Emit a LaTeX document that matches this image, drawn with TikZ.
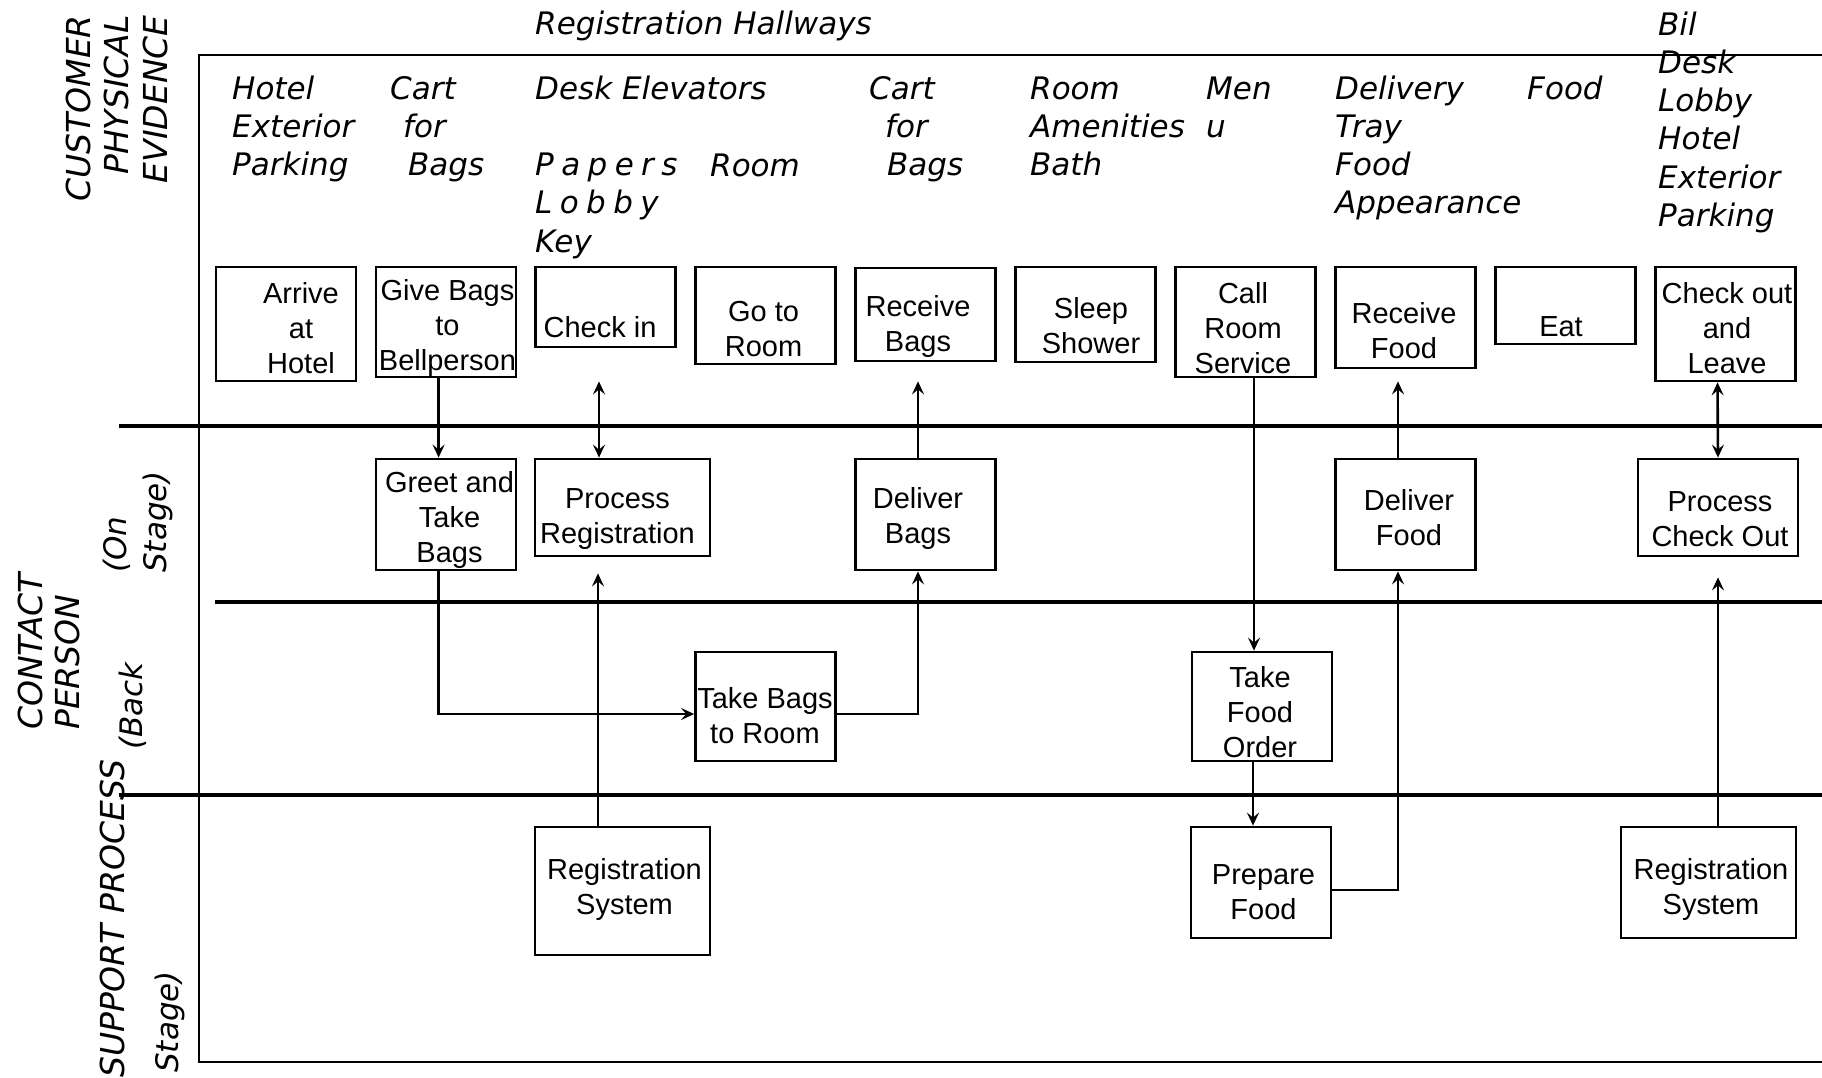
\documentclass[tikz,border=0pt]{standalone}
\usepackage{fontspec}
\setmainfont{Liberation Sans}
\newfontfamily\handfont{DejaVu Sans}
\usetikzlibrary{arrows.meta}

\tikzset{
  act/.style={draw, line width=2.8pt, minimum width=140pt, inner sep=0pt},
  acttxt/.style={font=\fontsize{29}{35}\selectfont, align=center, inner sep=0pt},
  ev/.style={font=\handfont\itshape\fontsize{31}{38.3}\selectfont, align=left, anchor=north west, inner sep=0pt},
  lanelbl/.style={font=\handfont\itshape\fontsize{33}{38.5}\selectfont, rotate=90, inner sep=0pt},
  flowtip/.tip={Stealth[length=13pt,width=12pt,inset=5pt]},
  flow/.style={line width=2.6pt, -flowtip},
  both/.style={line width=2.6pt, flowtip-flowtip},
  rule/.style={line width=3.2pt}
}

\begin{document}
\begin{tikzpicture}[x=1pt, y=-1pt]
\useasboundingbox (0,0) rectangle (1822,1077);

% frame and lane rules
\draw[line width=2.8pt] (1822,55) -- (199,55) -- (199,1062) -- (1822,1062);
\draw[rule] (119,426) -- (1822,426);
\draw[rule] (215,602) -- (1822,602);
\draw[rule] (119,795) -- (1822,795);

% lane labels
\node[lanelbl, align=right, anchor=north east] (lane-cust) at (63,15) {\strut CUSTOMER\\PHYSICAL\\EVIDENCE};
\node[lanelbl, align=left, anchor=north west, font=\handfont\itshape\fontsize{33}{37}\selectfont] (lane-contact) at (16,730) {\strut CONTACT\\PERSON};
\node[lanelbl, align=left, anchor=north west, font=\handfont\itshape\fontsize{31}{40}\selectfont] (lane-on) at (98,573) {\strut(On\\Stage)};
\node[lanelbl, anchor=base west] (lane-support) at (124,1078) {SUPPORT PROCESS};
\node[lanelbl, anchor=base west, font=\handfont\itshape\fontsize{31}{38}\selectfont] (lane-back) at ([xshift=18pt,yshift=10pt]lane-support.base east) {(Back};
\node[lanelbl, anchor=base west, font=\handfont\itshape\fontsize{31}{38}\selectfont] (lane-stage) at (178,1073) {Stage)};

% physical evidence
\node[ev] (ev-hall) at (535,7) {\strut Registration Hallways};
\node[ev] (ev-arrive) at (232,72) {\strut Hotel\\Exterior\\Parking};
\node[ev] (ev-cart1) at (390,72) {\strut Cart\\\hspace*{13pt}for\\\hspace*{18pt}Bags};
\node[ev] (ev-desk) at (535,72) {\strut Desk Elevators\\\strut\\{\spaceskip=7.4pt P a p e r s}\\{\spaceskip=7.4pt L o b b y}\\Key};
\node[ev] (ev-room) at (710,149) {\strut Room};
\node[ev] (ev-cart2) at (869,72) {\strut Cart\\\hspace*{16pt}for\\\hspace*{18pt}Bags};
\node[ev] (ev-bath) at (1030,72) {\strut Room\\Amenities\\Bath};
\node[ev] (ev-menu) at (1206,72) {\strut Men\\u};
\node[ev] (ev-tray) at (1335,72) {\strut Delivery\\Tray\\Food\\Appearance};
\node[ev] (ev-food) at (1527,72) {\strut Food};
\node[ev] (ev-leave) at (1658,8) {\strut Bil\\Desk\\Lobby\\Hotel\\Exterior\\Parking};

% customer actions
\node[act, minimum height=114pt] (arrive) at (286,324) {};
\node[acttxt] (arrive-t) at ([xshift=15pt,yshift=-4pt]arrive.center) {Arrive\\at\\Hotel};
\node[act, minimum height=110pt] (givebags) at (446,322) {};
\node[acttxt] (givebags-t) at ([xshift=1.5pt,yshift=-6pt]givebags.center) {Give Bags\\to\\Bellperson};
\node[act, minimum height=80pt] (checkin) at (605.5,307) {};
\node[acttxt] (checkin-t) at ([xshift=-5.5pt,yshift=-20pt]checkin.center) {Check in};
\node[act, minimum height=97pt] (gotoroom) at (765.5,315.5) {};
\node[acttxt] (gotoroom-t) at ([xshift=-2pt,yshift=-14pt]gotoroom.center) {Go to\\Room};
\node[act, minimum height=93pt] (recbags) at (925.5,314.5) {};
\node[acttxt] (recbags-t) at ([xshift=-7.5pt,yshift=-11.5pt]recbags.center) {Receive\\Bags};
\node[act, minimum height=95pt] (sleep) at (1085.5,314.5) {};
\node[acttxt] (sleep-t) at ([xshift=5.5pt,yshift=-11.5pt]sleep.center) {Sleep\\Shower};
\node[act, minimum height=110pt] (callrs) at (1245.5,322) {};
\node[acttxt] (callrs-t) at ([xshift=-2.5pt,yshift=-6pt]callrs.center) {Call\\Room\\Service};
\node[act, minimum height=101pt] (recfood) at (1405.5,317.5) {};
\node[acttxt] (recfood-t) at ([xshift=-1.5pt,yshift=-13.5pt]recfood.center) {Receive\\Food};
\node[act, minimum height=77pt] (eat) at (1565.5,305.5) {};
\node[acttxt] (eat-t) at ([xshift=-4.5pt,yshift=-21.5pt]eat.center) {Eat};
\node[act, minimum height=114pt] (checkout) at (1725.5,324) {};
\node[acttxt] (checkout-t) at ([xshift=1.5pt,yshift=-4pt]checkout.center) {Check out\\and\\Leave};

% onstage contact person
\node[act, minimum height=111pt] (greet) at (446,514.5) {};
\node[acttxt] (greet-t) at ([xshift=3.5pt,yshift=-5.5pt]greet.center) {Greet and\\Take\\Bags};
\node[act, minimum width=175pt, minimum height=97pt] (procreg) at (622.5,507.5) {};
\node[acttxt] (procreg-t) at ([xshift=-5pt,yshift=-12pt]procreg.center) {Process\\Registration};
\node[act, minimum height=111pt] (delbags) at (925.5,514.5) {};
\node[acttxt] (delbags-t) at ([xshift=-7.5pt,yshift=-3.5pt]delbags.center) {Deliver\\Bags};
\node[act, minimum height=111pt] (delfood) at (1405.5,514.5) {};
\node[acttxt] (delfood-t) at ([xshift=3.5pt,yshift=-3pt]delfood.center) {Deliver\\Food};
\node[act, minimum width=160pt, minimum height=97pt] (proccheck) at (1718,507.5) {};
\node[acttxt] (proccheck-t) at ([xshift=2pt,yshift=-12pt]proccheck.center) {Process\\Check Out};

% backstage contact person
\node[act, minimum height=109pt] (takebags) at (765.5,706.5) {};
\node[acttxt] (takebags-t) at ([xshift=-0.5pt,yshift=-9pt]takebags.center) {Take Bags\\to Room};
\node[act, minimum height=109pt] (takeorder) at (1262,706.5) {};
\node[acttxt] (takeorder-t) at ([xshift=-2pt,yshift=-5.5pt]takeorder.center) {Take\\Food\\Order};

% support process
\node[act, minimum width=175pt, minimum height=128pt] (regsys1) at (622.5,891) {};
\node[acttxt] (regsys1-t) at ([xshift=2pt,yshift=1.5pt]regsys1.center) {Registration\\System};
\node[act, minimum height=111pt] (prepfood) at (1261,882.5) {};
\node[acttxt] (prepfood-t) at ([xshift=2.5pt,yshift=-10pt]prepfood.center) {Prepare\\Food};
\node[act, minimum width=175pt, minimum height=111pt] (regsys2) at (1708.5,882.5) {};
\node[acttxt] (regsys2-t) at ([xshift=2.5pt,yshift=-7pt]regsys2.center) {Registration\\System};

% connectors
\draw[flow] ([xshift=-7.4pt]givebags.south) -- ([xshift=-7.4pt]greet.north);
\draw[both] ([xshift=-6.5pt,yshift=-33pt]checkin.south) -- ([xshift=-23.5pt]procreg.north);
\draw[flow] ([xshift=-7.4pt]greet.south) |- ([yshift=-7.5pt]takebags.west);
\draw[flow] ([yshift=-7.5pt]takebags.east) -| ([xshift=-7.5pt]delbags.south);
\draw[flow] ([xshift=-7.5pt]delbags.north) -- ([xshift=-7.5pt,yshift=-19pt]recbags.south);
\draw[flow, line width=2pt] ([xshift=-24.5pt]regsys1.north) -- ([xshift=-24.5pt,yshift=-16pt]procreg.south);
\draw[flow] ([xshift=8.5pt]callrs.south) -- ([xshift=-8pt]takeorder.north);
\draw[flow] ([xshift=-9pt]takeorder.south) -- ([xshift=-8pt]prepfood.north);
\draw[flow] ([yshift=-7.5pt]prepfood.east) -| ([xshift=-7.5pt]delfood.south);
\draw[flow] ([xshift=-7.5pt]delfood.north) -- ([xshift=-7.5pt,yshift=-12pt]recfood.south);
\draw[both] ([xshift=-8pt]checkout.south) -- (proccheck.north);
\draw[flow, line width=2pt] ([xshift=9.5pt]regsys2.north) -- ([yshift=-20pt]proccheck.south);
\end{tikzpicture}
\end{document}
